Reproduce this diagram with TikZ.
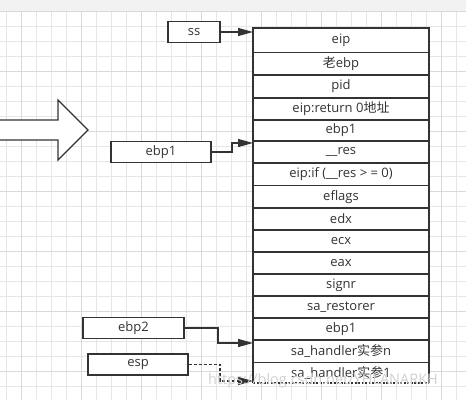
\documentclass[tikz,border=0pt]{standalone}
\usepackage{fontspec}
\setmainfont{Open Sans}
\newfontfamily\cjk{Noto Sans CJK SC}
\usetikzlibrary{arrows.meta}
\definecolor{ink}{HTML}{333333}
\definecolor{gridlt}{HTML}{E6E6E6}
\definecolor{griddk}{HTML}{D9D9D9}
\definecolor{band}{HTML}{F2F2F2}
\tikzset{
  cell/.style={draw=ink, line width=1.3pt, fill=white},
  label/.style={font=\fontsize{13}{15}\selectfont, text=ink},
  tag/.style={draw=ink, line width=1.3pt, fill=white, minimum height=21pt, inner sep=0pt, font=\fontsize{13}{15}\selectfont, text=ink},
  conn/.style={draw=ink, line width=1.3pt, -{Triangle[length=15pt,width=8pt]}},
}
\begin{document}
\begin{tikzpicture}[x=1pt,y=-1pt]
\useasboundingbox (0,0) rectangle (466,400);
\fill[white] (0,0) rectangle (466,400);
% grid
\foreach \k in {0,...,30} {
  \pgfmathsetmacro{\xx}{6.5+15*\k}
  \draw[gridlt, line width=0.9pt] (\xx,11) -- (\xx,400);
}
\foreach \k in {0,...,26} {
  \pgfmathsetmacro{\yy}{11+15*\k}
  \draw[gridlt, line width=0.9pt] (0,\yy) -- (466,\yy);
}
\foreach \k in {0,...,7} {
  \pgfmathsetmacro{\xx}{21.5+60*\k}
  \draw[griddk, line width=0.9pt] (\xx,11) -- (\xx,400);
}
\foreach \k in {0,...,6} {
  \pgfmathsetmacro{\yy}{11+60*\k}
  \draw[griddk, line width=0.9pt] (0,\yy) -- (466,\yy);
}
\fill[band] (0,0) rectangle (466,11);

% big hollow arrow
\draw[ink, line width=1.3pt, fill=white, line join=miter]
  (-5,120) -- (58,120) -- (58,100) -- (88,130) -- (58,160) -- (58,140) -- (-5,140);

% stack cells
\def\sl{253}\def\sr{429}
\foreach \ya/\yb/\txt/\nm in {
  28/52.5/{eip}/r1,
  52.5/75/{{\cjk 老}ebp}/r2,
  75/98/{pid}/r3,
  98/120/{eip:return 0{\cjk 地址}}/r4,
  120/141/{ebp1}/r5,
  141/163/{\_\_res}/r6,
  163/185.5/{eip:if (\_\_res > = 0)}/r7,
  185.5/208/{eflags}/r8,
  208/230/{edx}/r9,
  230/252/{ecx}/r10,
  252/274/{eax}/r11,
  274/296/{signr}/r12,
  296/318/{sa\_restorer}/r13,
  318/340/{ebp1}/r14,
  340/362.5/{sa\_handler{\cjk 实参}n}/r15} {
  \draw[cell] (\sl,\ya) rectangle (\sr,\yb);
  \node[label] (\nm) at ({(\sl+\sr)/2},{(\ya+\yb)/2}) {\txt};
}
\fill[white] (\sl,362.5) rectangle (\sr,383);
\draw[ink, line width=1.3pt] (\sl,383) -- (\sl,362.5) -- (\sr,362.5) -- (\sr,383);
\draw[ink, line width=1.3pt, dash pattern=on 2pt off 1.5pt] (\sl,383) -- (\sr,383);
\node[label] (r16) at ({(\sl+\sr)/2},372.5) {sa\_handler{\cjk 实参}1};

% pointer tags
\node[tag, minimum width=52pt] (ss) at (194,32) {ss};
\node[tag, minimum width=100pt] (ebpA) at (161,152) {ebp1};
\node[tag, minimum width=101pt] (ebpB) at (133.5,328) {ebp2};
\node[tag, minimum width=100pt] (esp) at (138,364.5) {esp};

\coordinate (tss) at (253,32);
\coordinate (tebpA) at (253,143);
\coordinate (tebpB) at (253,343);
\coordinate (tesp) at (253,381);

\draw[conn] (ss.east) -- (tss);
\draw[conn] (ebpA.east) -- (232,152) -- (232,143) -- (tebpA);
\draw[conn] (ebpB.east) -- (218,328) -- (218,343) -- (tebpB);
\draw[conn, dash pattern=on 3pt off 2pt] (esp.east) -- (220,364.5) -- (220,381) -- (tesp);

% watermark
\node[anchor=west, text=black!18, font=\fontsize{14.5}{16}\selectfont, inner sep=0pt] (wm) at (208,381) {https://blog.csdn.net/YHLANARKH};
\end{tikzpicture}
\end{document}
